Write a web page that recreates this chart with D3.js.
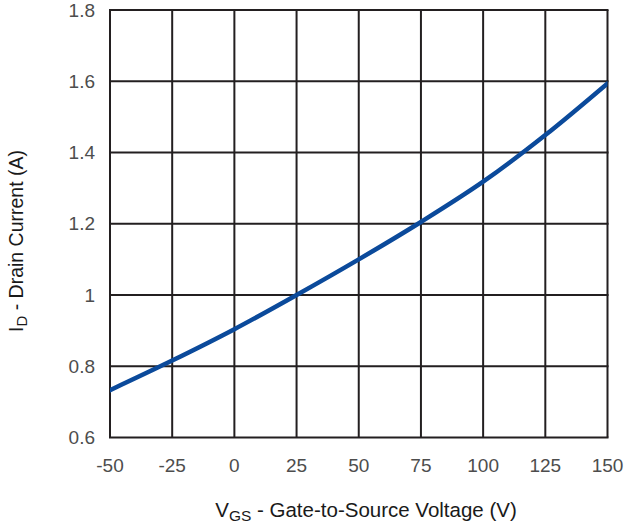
<!DOCTYPE html>
<html>
<head>
<meta charset="utf-8">
<script src="https://cdn.jsdelivr.net/npm/d3@7/dist/d3.min.js"></script>
<style>
  body { margin: 0; background: #fff; }
  svg { display: block; }
  text { font-family: "Liberation Sans", Arial, sans-serif; }
</style>
</head>
<body>
<svg id="chart" width="627" height="527"></svg>
<script>
// Gate-to-source voltage (V) and drain current (A)
const vgs = [-50, -25, 0, 25, 50, 75, 100, 125, 150];
const drainCurrent = [0.733, 0.816, 0.904, 1.0, 1.1, 1.205, 1.318, 1.449, 1.594];
const xTicks = [-50, -25, 0, 25, 50, 75, 100, 125, 150];
const yTicks = [0.6, 0.8, 1.0, 1.2, 1.4, 1.6, 1.8];

const svg = d3.select("#chart");
const margin = { left: 110, top: 10, right: 19.5, bottom: 89.5 };
const W = 627, H = 527;

const x = d3.scaleLinear().domain([-50, 150]).range([margin.left, W - margin.right]);
const y = d3.scaleLinear().domain([0.6, 1.8]).range([H - margin.bottom, margin.top]);

const gridColor = "#231f20";

// Grid
svg.append("g").selectAll("line.v").data(xTicks).join("line")
  .attr("x1", d => x(d)).attr("x2", d => x(d))
  .attr("y1", y(1.8)).attr("y2", y(0.6))
  .attr("stroke", gridColor).attr("stroke-width", 2);
svg.append("g").selectAll("line.h").data(yTicks).join("line")
  .attr("y1", d => y(d)).attr("y2", d => y(d))
  .attr("x1", x(-50) - 1).attr("x2", x(150) + 1)
  .attr("stroke", gridColor).attr("stroke-width", 2);

// Tick labels
const fmtY = d => d === 1 ? "1" : d.toFixed(1);
svg.append("g").selectAll("text").data(yTicks).join("text")
  .attr("x", 95).attr("y", d => y(d))
  .attr("dy", "0.35em")
  .attr("text-anchor", "end")
  .attr("font-size", 19)
  .attr("fill", "#4d4d4d")
  .text(fmtY);
svg.append("g").selectAll("text").data(xTicks).join("text")
  .attr("x", d => x(d)).attr("y", 472)
  .attr("text-anchor", "middle")
  .attr("font-size", 19)
  .attr("fill", "#4d4d4d")
  .text(d => d);

// Curve
svg.append("defs").append("clipPath").attr("id", "plot")
  .append("rect")
  .attr("x", x(-50)).attr("y", y(1.8))
  .attr("width", x(150) - x(-50)).attr("height", y(0.6) - y(1.8));

const line = d3.line()
  .x((d, i) => x(vgs[i]))
  .y(d => y(d))
  .curve(d3.curveCatmullRom);

svg.append("path")
  .datum(drainCurrent)
  .attr("clip-path", "url(#plot)")
  .attr("d", line)
  .attr("fill", "none")
  .attr("stroke", "#0b4a9b")
  .attr("stroke-width", 4.5)
  .attr("stroke-linecap", "round");

// Axis titles
const xt = svg.append("text")
  .attr("x", 366).attr("y", 517)
  .attr("text-anchor", "middle")
  .attr("font-size", 20.5)
  .attr("fill", "#1a1a1a");
xt.append("tspan").text("V");
xt.append("tspan").attr("font-size", 15.5).attr("dy", 4).text("GS");
xt.append("tspan").attr("dy", -4).text(" - Gate-to-Source Voltage (V)");

const yt = svg.append("text")
  .attr("transform", `translate(23, 241) rotate(-90)`)
  .attr("text-anchor", "middle")
  .attr("font-size", 19.5)
  .attr("fill", "#1a1a1a");
yt.append("tspan").text("I");
yt.append("tspan").attr("font-size", 15).attr("dy", 4).text("D");
yt.append("tspan").attr("dy", -4).text(" - Drain Current (A)");
</script>
</body>
</html>
